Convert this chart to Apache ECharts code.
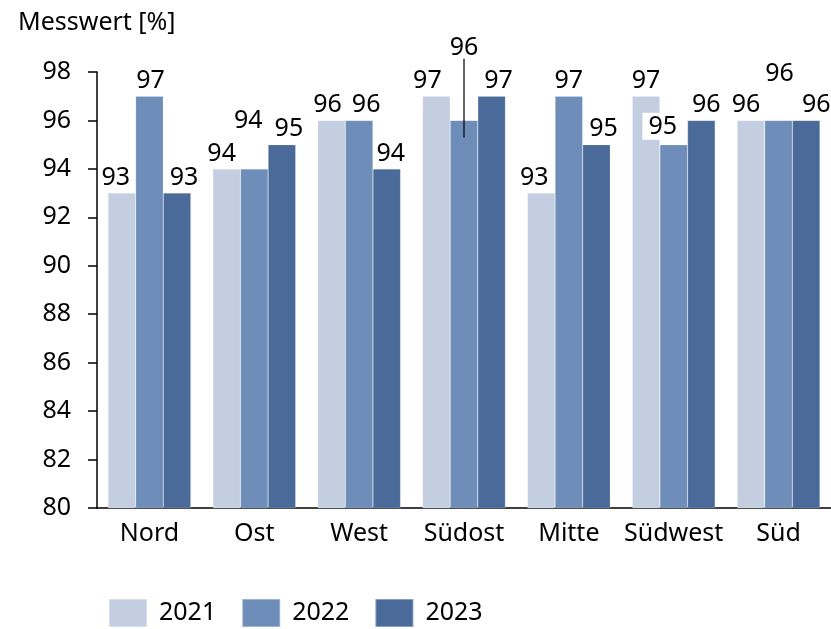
<!DOCTYPE html>
<html><head><meta charset="utf-8">
<script src="https://cdn.jsdelivr.net/npm/echarts@6/dist/echarts.min.js"></script>
<style>html,body{margin:0;padding:0;background:#fff}#c{width:831px;height:629px}</style>
</head><body><div id="c"></div>
<script>
const categories = ['Nord','Ost','West','Südost','Mitte','Südwest','Süd'];
const years = ['2021','2022','2023'];
const v2021 = [93,94,96,97,93,97,96];
const v2022 = [97,94,96,96,97,95,96];
const v2023 = [93,95,94,97,95,96,96];
const yTicks = {min:80, max:98, interval:2};
// leader line for the moved Südost 2022 label (category, from value, to value)
const leader = {cat:'Südost', from:95.3, to:98.55};
const colors = ['#C3CEE0','#6E8DB8','#4A6A99'];
const FONT = '"Noto Sans", sans-serif';
const FS = 25;

// label nudges (pixels) per series, per category
const labelOffsets = [
  [[-6,0],[-5,0],[-4,0],[-9,0],[-7,0],[0,0],[-5,0]],
  [[1,0],[-6,-33],[7,0],[0,-57],[0,0],[-12,-2],[1,-31]],
  [[7,0],[7,0],[4,0],[7,0],[7,0],[5,0],[10,0]]
];

const chart = echarts.init(document.getElementById('c'));
const baseLabel = {show:true, position:'top', distance:3, color:'#000', fontSize:FS, fontFamily:FONT};

function mk(vals, k){
  return vals.map((v,i)=>{
    const lab = {offset: labelOffsets[k][i]};
    if(k===1 && i===5){ lab.backgroundColor='#fff'; lab.padding=[2,4,0,6]; }
    return {value:v, label:lab};
  });
}
const series = [v2021,v2022,v2023].map((vals,k)=>({
  name: years[k], type:'bar', data: mk(vals,k),
  barGap:'0%', barCategoryGap:'21%',
  itemStyle:{color:colors[k], borderColor:'rgba(255,255,255,0.35)', borderWidth:0.5},
  label: baseLabel, z: 2,
  emphasis:{disabled:true}
}));
series.push({
  name:'leader', type:'line', clip:false, silent:true, symbol:'none', z:5,
  data:[[leader.cat, leader.from],[leader.cat, leader.to]],
  lineStyle:{color:'#000', width:1.2},
  label:{show:false}, emphasis:{disabled:true}
});

chart.setOption({
  animation:false,
  textStyle:{fontFamily:FONT},
  title:{text:'Messwert [%]', left:13, top:5, textStyle:{fontSize:FS, fontWeight:'normal', color:'#000', fontFamily:FONT}},
  grid:{left:97, right:0, top:72, bottom:121, containLabel:false},
  legend:{
    data:years, left:108, bottom:1, padding:0, itemWidth:38, itemHeight:28, itemGap:25,
    icon:'rect',
    textStyle:{fontSize:FS, color:'#000', fontFamily:FONT, padding:[0,0,0,7]}
  },
  xAxis:{
    type:'category', data:categories,
    axisLine:{show:true, lineStyle:{color:'#000', width:1.5}},
    axisTick:{show:false},
    axisLabel:{color:'#000', fontSize:FS, fontFamily:FONT, margin:13, interval:0}
  },
  yAxis:{
    type:'value', min:yTicks.min, max:yTicks.max, interval:yTicks.interval,
    axisLine:{show:true, lineStyle:{color:'#000', width:1.5}},
    axisTick:{show:true, length:9, lineStyle:{color:'#000', width:1.5}},
    splitLine:{show:false},
    axisLabel:{color:'#000', fontSize:FS, fontFamily:FONT, margin:26}
  },
  series: series
});
</script></body></html>
